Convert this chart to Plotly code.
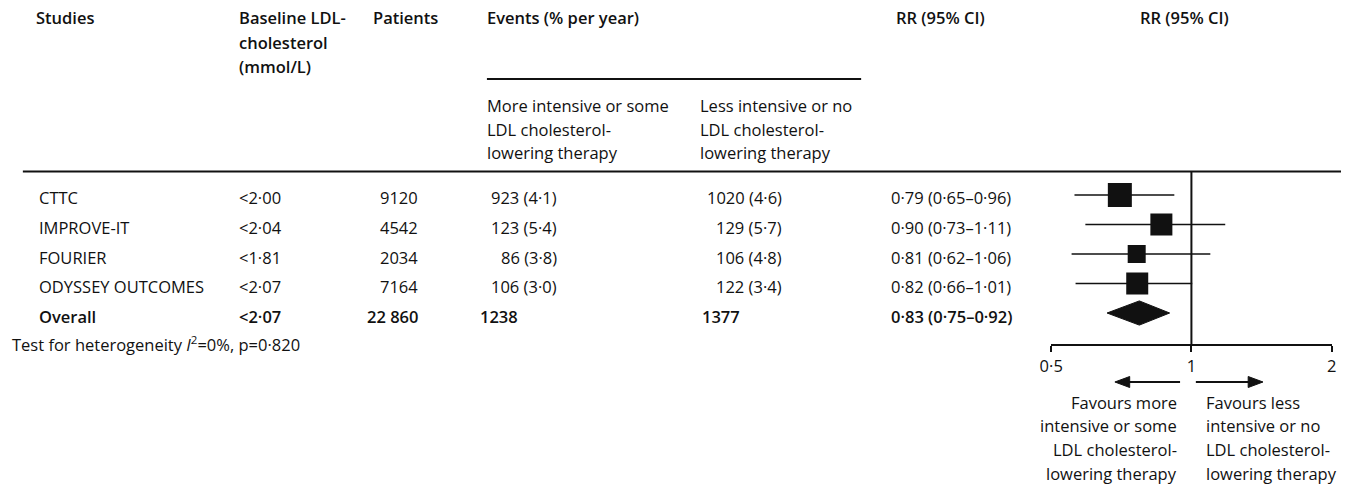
import math
import plotly.graph_objects as go

# ---------------- data ----------------
studies = ["CTTC", "IMPROVE-IT", "FOURIER", "ODYSSEY OUTCOMES"]
baseline_ldl = ["<2·00", "<2·04", "<1·81", "<2·07"]
patients = ["9120", "4542", "2034", "7164"]
events_more = ["923 (4·1)", "123 (5·4)", "86 (3·8)", "106 (3·0)"]
events_less = ["1020 (4·6)", "129 (5·7)", "106 (4·8)", "122 (3·4)"]
rr_labels = ["0·79 (0·65–0·96)", "0·90 (0·73–1·11)", "0·81 (0·62–1·06)", "0·82 (0·66–1·01)"]

overall_row = ["Overall", "<2·07", "22 860", "1238", "1377", "0·83 (0·75–0·92)"]
heterogeneity = "Test for heterogeneity <i>I</i><sup>2</sup>=0%, p=0·820"

# marker positions as drawn in the picture (RR scale)
rr_point = [0.702, 0.862, 0.763, 0.765]
rr_low = [0.561, 0.592, 0.553, 0.564]
rr_high = [0.919, 1.182, 1.098, 1.004]
overall_point = 0.773
overall_low = 0.659
overall_high = 0.898

tick_values = [0.5, 1, 2]
tick_labels = ["0·5", "1", "2"]

header_studies = ["Studies"]
header_baseline = ["Baseline LDL-", "cholesterol", "(mmol/L)"]
header_patients = ["Patients"]
header_events = ["Events (% per year)"]
header_rr = ["RR (95% CI)"]
sub_more = ["More intensive or some", "LDL cholesterol-", "lowering therapy"]
sub_less = ["Less intensive or no", "LDL cholesterol-", "lowering therapy"]
favours_more = ["Favours more", "intensive or some", "LDL cholesterol-", "lowering therapy"]
favours_less = ["Favours less", "intensive or no", "LDL cholesterol-", "lowering therapy"]

# ---------------- style ----------------
W, H = 1346, 487
FONT = "Open Sans"
FS = 16.5
BLACK = "#111111"
box_sizes = [24, 22, 18, 22]


def px(x):
    return x / W


def py(y):
    return 1 - y / H


fig = go.Figure()

rows = [-i for i in range(len(studies))]
overall_y = -len(studies)

# confidence interval lines
for i in range(len(studies)):
    fig.add_trace(go.Scatter(x=[rr_low[i], rr_high[i]], y=[rows[i], rows[i]], mode="lines",
                             line=dict(color=BLACK, width=1.6), hoverinfo="skip", showlegend=False))
# study squares
fig.add_trace(go.Scatter(x=rr_point, y=rows, mode="markers",
                         marker=dict(symbol="square", size=box_sizes, color=BLACK, opacity=1,
                                     line=dict(width=0)),
                         hoverinfo="skip", showlegend=False))
# overall diamond
dh = 0.41
fig.add_trace(go.Scatter(x=[overall_low, overall_point, overall_high, overall_point, overall_low],
                         y=[overall_y, overall_y + dh, overall_y, overall_y - dh, overall_y],
                         mode="lines", fill="toself", fillcolor=BLACK, line=dict(color=BLACK, width=1),
                         hoverinfo="skip", showlegend=False))

# y scale: rows 29.5 px apart, plot domain 171..344 px
top_px, bot_px, row0_px, step = 171, 344, 195, 29.5
y_top = (row0_px - top_px) / step
y_bot = -(bot_px - row0_px) / step
# reference line at RR = 1
fig.add_trace(go.Scatter(x=[1, 1], y=[y_top, y_bot], mode="lines",
                         line=dict(color=BLACK, width=2), hoverinfo="skip", showlegend=False))

fig.update_layout(
    width=W, height=H, margin=dict(l=0, r=0, t=0, b=0),
    paper_bgcolor="white", plot_bgcolor="white",
    font=dict(family=FONT, size=FS, color=BLACK),
    xaxis=dict(type="log", range=[math.log10(0.5), math.log10(2)],
               domain=[px(1052.5), px(1336.5)], showgrid=False, zeroline=False,
               showline=True, linecolor=BLACK, linewidth=2,
               ticks="outside", ticklen=6, tickwidth=2, tickcolor=BLACK,
               tickvals=tick_values, ticktext=tick_labels,
               tickfont=dict(family=FONT, size=FS, color=BLACK)),
    yaxis=dict(range=[y_bot, y_top], domain=[py(bot_px), py(top_px)], visible=False,
               showgrid=False, zeroline=False),
)

ann = []


def text(x, y, s, anchor="left", bold=False, yref="paper", yshift=0):
    ann.append(dict(x=px(x), y=y, xref="paper", yref=yref, text=s,
                    showarrow=False, xanchor=anchor, yanchor="middle", borderpad=0, borderwidth=0,
                    yshift=yshift,
                    font=dict(family=FONT, size=FS, color=BLACK, weight=600 if bold else 400)))


def lines(x, y0, spacing, items, anchor="left", bold=False):
    for k, s in enumerate(items):
        text(x, py(y0 + k * spacing), s, anchor=anchor, bold=bold)


# column headers
lines(24, 18, 24.5, header_studies, bold=True)
lines(230, 18, 24.5, header_baseline, bold=True)
lines(366, 18, 24.5, header_patients, bold=True)
lines(481, 18, 24.5, header_events, bold=True)
lines(895, 18, 24.5, header_rr, bold=True)
lines(1142, 18, 24.5, header_rr, bold=True)
lines(481, 105, 24, sub_more)
lines(697, 105, 24, sub_less)

# table rows
ys = -3
for i in range(len(studies)):
    text(27, rows[i], studies[i], yref="y", yshift=ys)
    text(230, rows[i], baseline_ldl[i], yref="y", yshift=ys)
    text(411, rows[i], patients[i], anchor="right", yref="y", yshift=ys)
    text(552, rows[i], events_more[i], anchor="right", yref="y", yshift=ys)
    text(780, rows[i], events_less[i], anchor="right", yref="y", yshift=ys)
    text(890, rows[i], rr_labels[i], yref="y", yshift=ys)

text(27, overall_y, overall_row[0], bold=True, yref="y", yshift=ys)
text(230, overall_y, overall_row[1], bold=True, yref="y", yshift=ys)
text(411, overall_y, overall_row[2], anchor="right", bold=True, yref="y", yshift=ys)
text(474, overall_y, overall_row[3], bold=True, yref="y", yshift=ys)
text(699, overall_y, overall_row[4], bold=True, yref="y", yshift=ys)
text(890, overall_y, overall_row[5], bold=True, yref="y", yshift=ys)

text(0, py(344), heterogeneity)

# favours captions
lines(1180, 402, 23.7, favours_more, anchor="right")
lines(1209, 402, 23.7, favours_less, anchor="left")

fig.update_layout(annotations=ann)

# arrows (shaft + filled head)
ay = 382
fig.add_shape(type="line", xref="paper", yref="paper", x0=px(1183), x1=px(1130), y0=py(ay), y1=py(ay),
              line=dict(color=BLACK, width=2))
fig.add_shape(type="path", xref="paper", yref="paper",
              path="M %f,%f L %f,%f L %f,%f Z" % (px(1117), py(ay), px(1132), py(ay - 5.5), px(1132), py(ay + 5.5)),
              fillcolor=BLACK, line=dict(color=BLACK, width=1))
fig.add_shape(type="line", xref="paper", yref="paper", x0=px(1199), x1=px(1254), y0=py(ay), y1=py(ay),
              line=dict(color=BLACK, width=2))
fig.add_shape(type="path", xref="paper", yref="paper",
              path="M %f,%f L %f,%f L %f,%f Z" % (px(1267), py(ay), px(1252), py(ay - 5.5), px(1252), py(ay + 5.5)),
              fillcolor=BLACK, line=dict(color=BLACK, width=1))

# horizontal rules
fig.add_shape(type="line", xref="paper", yref="paper", x0=px(11), x1=1, y0=py(171.5), y1=py(171.5),
              line=dict(color=BLACK, width=2))
fig.add_shape(type="line", xref="paper", yref="paper", x0=px(481), x1=px(860), y0=py(79), y1=py(79),
              line=dict(color=BLACK, width=2))

fig.write_html("out.html")
